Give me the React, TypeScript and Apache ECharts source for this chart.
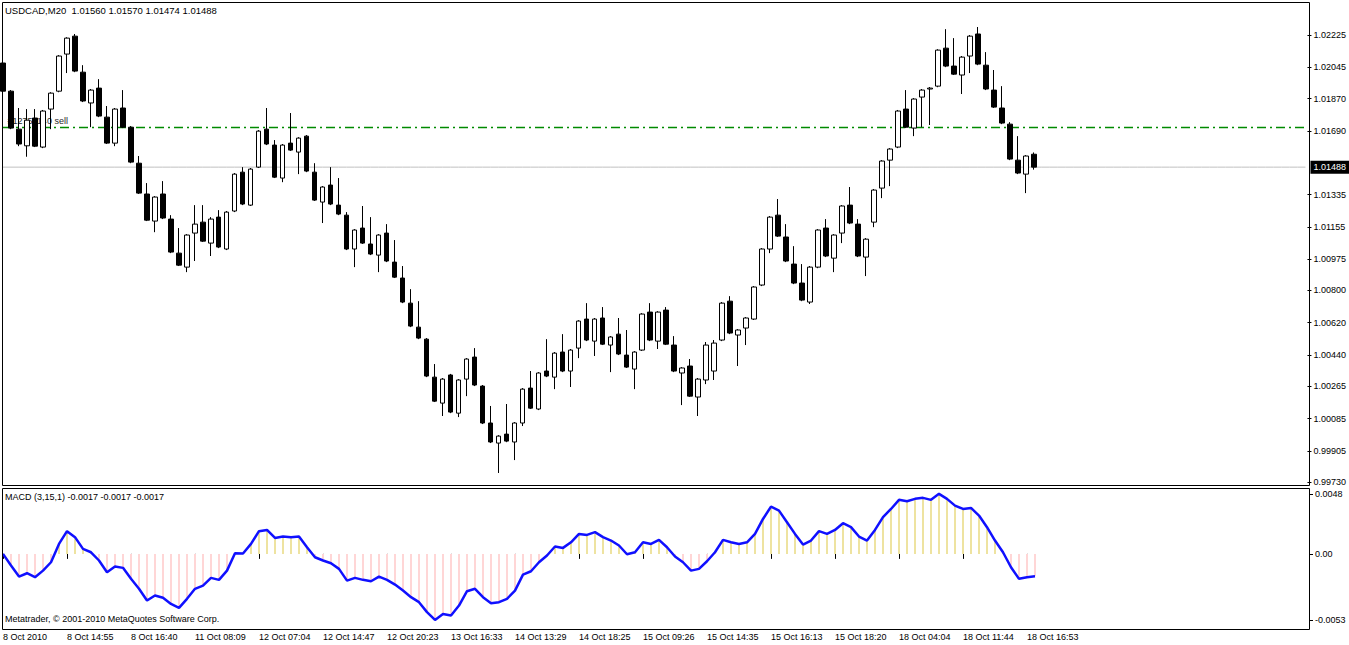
import React, { useEffect, useRef } from "react";
import * as echarts from "echarts";

const symbolName = "USDCAD,M20";
const macdName = "MACD (3,15,1) -0.0017 -0.0017 -0.0017";
const copyright = "Metatrader, © 2001-2010 MetaQuotes Software Corp.";
const orderText = "#12751140 sell";
const orderPrice = 1.01709;

const xLabels = [
  "8 Oct 2010", "8 Oct 14:55", "8 Oct 16:40", "11 Oct 08:09", "12 Oct 07:04",
  "12 Oct 14:47", "12 Oct 20:23", "13 Oct 16:33", "14 Oct 13:29", "14 Oct 18:25",
  "15 Oct 09:26", "15 Oct 14:35", "15 Oct 16:13", "15 Oct 18:20", "18 Oct 04:04",
  "18 Oct 11:44", "18 Oct 16:53",
];

const priceTicks = [
  0.9973, 0.99905, 1.00085, 1.00265, 1.0044, 1.0062, 1.008, 1.00975, 1.01155,
  1.01335, 1.0169, 1.0187, 1.02045, 1.02225,
];
const macdTicks = [0.0048, 0, -0.0053];

const opens = [
  1.02069, 1.01912, 1.017, 1.01607, 1.01762, 1.016, 1.01812, 1.01912, 1.02119, 1.02219,
  1.02018, 1.01846, 1.01929, 1.01767, 1.01622, 1.01818, 1.01711, 1.0151, 1.01338, 1.01187,
  1.01338, 1.01198, 1.01008, 1.0093, 1.0112, 1.01181, 1.01064, 1.01209, 1.01031, 1.01243,
  1.0146, 1.01276, 1.01488, 1.017, 1.01611, 1.01427, 1.01622, 1.01572, 1.01661, 1.0146,
  1.01293, 1.01388, 1.01276, 1.0122, 1.01031, 1.01148, 1.01059, 1.00997, 1.0112, 1.00958,
  1.00869, 1.00729, 1.00595, 1.00528, 1.00316, 1.00171, 1.00328, 1.00115, 1.00305, 1.00428,
  1.00266, 1.0006, 0.99948, 0.99998, 0.99954, 1.0006, 1.00255, 1.00138, 1.0035, 1.00316,
  1.00456, 1.0035, 1.00478, 1.0064, 1.00517, 1.00646, 1.00495, 1.00556, 1.00439, 1.00361,
  1.00467, 1.00679, 1.00517, 1.0069, 1.00495, 1.00339, 1.00378, 1.00205, 1.003, 1.0035,
  1.00523, 1.0074, 1.00551, 1.0059, 1.0064, 1.0083, 1.01031, 1.0122, 1.01098, 1.00947,
  1.00841, 1.00735, 1.0093, 1.01148, 1.0098, 1.0112, 1.01276, 1.0117, 1.00986, 1.01181,
  1.01371, 1.01527, 1.016, 1.01812, 1.01706, 1.01879, 1.01924, 1.0194, 1.02152, 1.02052,
  1.02002, 1.02108, 1.02231, 1.02057, 1.01918, 1.01818, 1.01728, 1.01527, 1.01449, 1.0156,
];
const closes = [
  1.01912, 1.01706, 1.01617, 1.0175, 1.01605, 1.01801, 1.01901, 1.02108, 1.02208, 1.02024,
  1.01857, 1.01918, 1.01773, 1.01622, 1.01812, 1.01711, 1.01516, 1.01343, 1.01192, 1.01321,
  1.01204, 1.01014, 1.00941, 1.01109, 1.0117, 1.01075, 1.01198, 1.01042, 1.01237, 1.01449,
  1.01282, 1.01477, 1.01689, 1.01617, 1.01432, 1.01611, 1.01583, 1.0165, 1.01466, 1.01304,
  1.01377, 1.01282, 1.01226, 1.01031, 1.01137, 1.01064, 1.01003, 1.01109, 1.00964, 1.00874,
  1.00735, 1.00601, 1.00534, 1.00322, 1.00182, 1.00305, 1.00121, 1.003, 1.00417, 1.00272,
  1.0006, 0.99954, 0.99987, 0.99959, 1.0006, 1.00249, 1.00143, 1.00339, 1.00322, 1.0045,
  1.0035, 1.00467, 1.00629, 1.00523, 1.0064, 1.005, 1.0054, 1.00445, 1.00372, 1.00456,
  1.00668, 1.00523, 1.00679, 1.005, 1.0035, 1.00367, 1.0021, 1.00305, 1.00495, 1.00506,
  1.00729, 1.00562, 1.00579, 1.00646, 1.00819, 1.01031, 1.01209, 1.01103, 1.00964, 1.00841,
  1.00746, 1.0093, 1.01137, 1.00992, 1.01109, 1.01271, 1.01176, 1.00992, 1.01086, 1.0136,
  1.01522, 1.01589, 1.01801, 1.01711, 1.01868, 1.01918, 1.01929, 1.02141, 1.02052, 1.02007,
  1.02102, 1.02219, 1.02063, 1.01924, 1.01823, 1.01734, 1.01533, 1.01455, 1.0155, 1.01488,
];
const lows = [
  1.01906, 1.017, 1.01605, 1.01546, 1.016, 1.01594, 1.017, 1.01906, 1.02013, 1.02018,
  1.01851, 1.01711, 1.01767, 1.01617, 1.01605, 1.01706, 1.0151, 1.01338, 1.01187, 1.01125,
  1.01198, 1.01008, 1.00936, 1.00902, 1.00964, 1.0107, 1.00992, 1.01036, 1.01025, 1.01237,
  1.01276, 1.01271, 1.01483, 1.01611, 1.01427, 1.01404, 1.01578, 1.01449, 1.0146, 1.01299,
  1.01176, 1.01276, 1.0122, 1.01025, 1.0093, 1.01059, 1.00997, 1.00902, 1.00958, 1.00869,
  1.00729, 1.00595, 1.00528, 1.00316, 1.00177, 1.00099, 1.00115, 1.00093, 1.0021, 1.00266,
  1.00054, 0.99948, 0.99781, 0.99953, 0.99853, 1.00043, 1.00138, 1.00132, 1.00316, 1.00249,
  1.00344, 1.00261, 1.00422, 1.00517, 1.00434, 1.00495, 1.00344, 1.00439, 1.00367, 1.00249,
  1.00462, 1.00517, 1.00473, 1.00495, 1.00344, 1.0016, 1.00205, 1.00099, 1.00277, 1.003,
  1.00517, 1.00556, 1.00378, 1.00495, 1.00635, 1.00824, 1.01008, 1.01098, 1.00958, 1.00835,
  1.0074, 1.00724, 1.00924, 1.00986, 1.00902, 1.01064, 1.0117, 1.00986, 1.0088, 1.01153,
  1.01315, 1.01382, 1.01594, 1.01706, 1.01661, 1.01711, 1.01723, 1.01934, 1.02046, 1.02002,
  1.01896, 1.02013, 1.02057, 1.01918, 1.01818, 1.01728, 1.01527, 1.01449, 1.01343, 1.01474,
];
const highs = [
  1.02124, 1.01918, 1.01818, 1.01812, 1.01812, 1.01807, 1.01906, 1.02113, 1.02213, 1.02231,
  1.02057, 1.01924, 1.01979, 1.01829, 1.01818, 1.01918, 1.01717, 1.0155, 1.01399, 1.01326,
  1.0141, 1.0122, 1.01148, 1.01114, 1.01276, 1.01276, 1.01209, 1.01248, 1.01243, 1.01455,
  1.01488, 1.01483, 1.01695, 1.01818, 1.01639, 1.01617, 1.0179, 1.01655, 1.01667, 1.0151,
  1.01382, 1.01488, 1.01427, 1.01237, 1.01142, 1.01271, 1.01209, 1.01114, 1.0117, 1.01081,
  1.00936, 1.00807, 1.0074, 1.00534, 1.00389, 1.00311, 1.00334, 1.00305, 1.00422, 1.00478,
  1.00272, 1.00155, 0.99992, 1.00166, 1.00065, 1.00255, 1.0035, 1.00344, 1.00528, 1.00456,
  1.00556, 1.00473, 1.00634, 1.00729, 1.00646, 1.00707, 1.00545, 1.00646, 1.00579, 1.00461,
  1.00673, 1.00729, 1.00684, 1.00707, 1.00545, 1.00372, 1.00417, 1.00311, 1.00512, 1.00523,
  1.00735, 1.00768, 1.00584, 1.00651, 1.00824, 1.01036, 1.01215, 1.0131, 1.0117, 1.01047,
  1.00947, 1.00936, 1.01142, 1.01198, 1.01114, 1.01276, 1.01377, 1.01198, 1.01092, 1.01366,
  1.01527, 1.01594, 1.01807, 1.01918, 1.01873, 1.01924, 1.01935, 1.02146, 1.02258, 1.02208,
  1.02108, 1.02225, 1.0227, 1.0213, 1.0203, 1.0194, 1.01739, 1.01661, 1.01555, 1.0157,
];

const macd = [
  0.0, -0.00093, -0.00182, -0.00155, -0.00187, -0.00134, -0.00067, 0.0008, 0.00182, 0.00134,
  0.0004, 0.00013, -0.00053, -0.00147, -0.00101, -0.00112, -0.002, -0.0028, -0.00374, -0.00334,
  -0.00352, -0.00401, -0.00433, -0.0036, -0.0028, -0.00254, -0.00192, -0.00208, -0.00134, 0.00005,
  0.00003, 0.0008, 0.00182, 0.00192, 0.00128, 0.00139, 0.00134, 0.00139, 0.00053, -0.00027,
  -0.00053, -0.00075, -0.0012, -0.00214, -0.00192, -0.00208, -0.00219, -0.00182, -0.00208, -0.00246,
  -0.00294, -0.00347, -0.00387, -0.00467, -0.00529, -0.00481, -0.00494, -0.00414, -0.00299, -0.0028,
  -0.00347, -0.00395, -0.00387, -0.0036, -0.00294, -0.00166, -0.00139, -0.00067, -0.00013, 0.00059,
  0.00048, 0.00093, 0.0016, 0.00152, 0.00174, 0.00134, 0.00107, 0.00067, -0.00003, 0.00013,
  0.00093, 0.0008, 0.00112, 0.00053, -0.00021, -0.00067, -0.00134, -0.0012, -0.00059, 0.00013,
  0.00112, 0.00093, 0.0008, 0.00093, 0.0016, 0.0028, 0.00379, 0.00347, 0.00254, 0.0016,
  0.00075, 0.00107, 0.00182, 0.0016, 0.00192, 0.00246, 0.00214, 0.00139, 0.00107, 0.00192,
  0.00294, 0.0036, 0.00433, 0.00422, 0.00441, 0.00449, 0.00433, 0.00481, 0.00441, 0.00387,
  0.0036, 0.00368, 0.00307, 0.00214, 0.00107, 0.00013, -0.00107, -0.002, -0.00187, -0.0018,
];

const SLOTS = 164;
const LABEL_STEP = 8;
const FONT = "Liberation Sans";
const ORDER_GREEN = "#008a00";

export default function App() {
  const ref = useRef<HTMLDivElement>(null);

  useEffect(() => {
    if (!ref.current) return;
    const chart = echarts.init(ref.current, null, { renderer: "svg" });
    const cats = Array.from({ length: SLOTS }, (_, i) => String(i));
    const candles = opens.map((o, i) => [o, closes[i], lows[i], highs[i]]);
    const last = candles.length - 1;
    const lastClose = closes[last];
    const title = `${symbolName}  ${opens[last].toFixed(5)} ${highs[last].toFixed(5)} ${lows[last].toFixed(5)} ${lastClose.toFixed(5)}`;
    const isLabel = (i: number) => i % LABEL_STEP === 0 && i / LABEL_STEP < xLabels.length;

    const priceLineData = cats.map(() => lastClose);
    const orderLineData = cats.map((_, i) =>
      i === 0
        ? {
            value: orderPrice,
            symbol: "circle",
            symbolSize: 1,
            itemStyle: { color: "rgba(0,0,0,0)" },
            label: {
              show: true,
              position: [5, -11],
              align: "left",
              verticalAlign: "top",
              formatter: orderText,
              color: "#2a2a2a",
              fontSize: 9,
              fontFamily: FONT,
            },
          }
        : orderPrice
    );

    chart.setOption({
      animation: false,
      backgroundColor: "#ffffff",
      textStyle: { fontFamily: FONT },
      grid: [
        { left: 3, top: 3, width: 1304, height: 482 },
        { left: 3, top: 489, width: 1304, height: 140 },
      ],
      xAxis: [
        { type: "category", gridIndex: 0, data: cats, boundaryGap: false, show: false },
        {
          type: "category",
          gridIndex: 1,
          data: cats,
          boundaryGap: false,
          axisLine: { show: false },
          axisTick: {
            show: true,
            interval: (i: number) => isLabel(i),
            length: 5,
            lineStyle: { color: "#000", width: 1 },
          },
          axisLabel: {
            interval: (i: number) => isLabel(i),
            formatter: (_v: string, i: number) => xLabels[i / LABEL_STEP] ?? "",
            align: "left",
            margin: 3,
            color: "#000",
            fontSize: 9,
            fontFamily: FONT,
          },
          splitLine: { show: false },
        },
      ],
      yAxis: [
        {
          type: "value",
          gridIndex: 0,
          position: "right",
          offset: 2,
          min: 0.99714,
          max: 1.02404,
          splitLine: { show: false },
          axisLine: { show: false },
          axisTick: { show: true, length: 4, customValues: priceTicks, lineStyle: { color: "#000" } },
          axisLabel: {
            customValues: priceTicks,
            formatter: (v: number) => v.toFixed(5),
            color: "#000",
            fontSize: 9,
            fontFamily: FONT,
            margin: 6,
          },
        },
        {
          type: "value",
          gridIndex: 1,
          position: "right",
          offset: 2,
          min: -0.00602,
          max: 0.0052,
          splitLine: { show: false },
          axisLine: { show: false },
          axisTick: { show: true, length: 4, customValues: macdTicks, lineStyle: { color: "#000" } },
          axisLabel: {
            customValues: macdTicks,
            formatter: (v: number) => (v === 0 ? "0.00" : v.toFixed(4)),
            color: "#000",
            fontSize: 9,
            fontFamily: FONT,
            margin: 6,
          },
        },
      ],
      series: [
        {
          name: "order",
          type: "line",
          xAxisIndex: 0,
          yAxisIndex: 0,
          data: orderLineData,
          color: ORDER_GREEN,
          symbol: "none",
          showSymbol: true,
          showAllSymbol: true,
          silent: true,
          lineStyle: { color: ORDER_GREEN, type: [9, 4, 2, 4], width: 1.4, opacity: 1 },
          z: 1,
        },
        {
          name: "price",
          type: "line",
          xAxisIndex: 0,
          yAxisIndex: 0,
          data: priceLineData,
          color: "#c0c0c0",
          symbol: "none",
          silent: true,
          lineStyle: { color: "#c0c0c0", width: 1 },
          endLabel: {
            show: true,
            formatter: lastClose.toFixed(5),
            backgroundColor: "#000",
            color: "#fff",
            padding: [2, 3, 2, 3],
            distance: 5,
            fontSize: 9,
            fontFamily: FONT,
          },
          z: 1,
        },
        {
          type: "candlestick",
          xAxisIndex: 0,
          yAxisIndex: 0,
          data: candles,
          barWidth: 5,
          clip: true,
          itemStyle: {
            color: "#ffffff",
            color0: "#000000",
            borderColor: "#000000",
            borderColor0: "#000000",
            borderWidth: 1,
          },
          z: 3,
        },
        {
          type: "bar",
          xAxisIndex: 1,
          yAxisIndex: 1,
          barWidth: 2,
          data: macd.map((v) => ({
            value: v,
            itemStyle: { color: v < 0 ? "#ffd6d6" : "#eee3a0" },
          })),
        },
        {
          type: "line",
          xAxisIndex: 1,
          yAxisIndex: 1,
          data: macd,
          color: "#1010ff",
          symbol: "none",
          lineStyle: { color: "#1010ff", width: 2.5 },
          z: 5,
        },
      ],
      graphic: [
        {
          type: "rect",
          silent: true,
          z: 100,
          shape: { x: 2.5, y: 2.5, width: 1307, height: 483 },
          style: { fill: "none", stroke: "#000", lineWidth: 1 },
        },
        {
          type: "rect",
          silent: true,
          z: 100,
          shape: { x: 2.5, y: 488.5, width: 1307, height: 141 },
          style: { fill: "none", stroke: "#000", lineWidth: 1 },
        },
        {
          type: "text",
          z: 101,
          x: 5,
          y: 10.5,
          style: { text: title, fill: "#000", font: `9.5px "${FONT}"`, verticalAlign: "middle" },
        },
        {
          type: "text",
          z: 101,
          x: 5,
          y: 497,
          style: { text: macdName, fill: "#000", font: `9px "${FONT}"`, verticalAlign: "middle" },
        },
        {
          type: "text",
          z: 101,
          x: 5,
          y: 619,
          style: { text: copyright, fill: "#000", font: `9px "${FONT}"`, verticalAlign: "middle" },
        },
      ],
    });

    return () => chart.dispose();
  }, []);

  return (
    <div
      ref={ref}
      style={{ position: "fixed", left: 0, top: 0, width: 1349, height: 645, background: "#fff" }}
    />
  );
}
